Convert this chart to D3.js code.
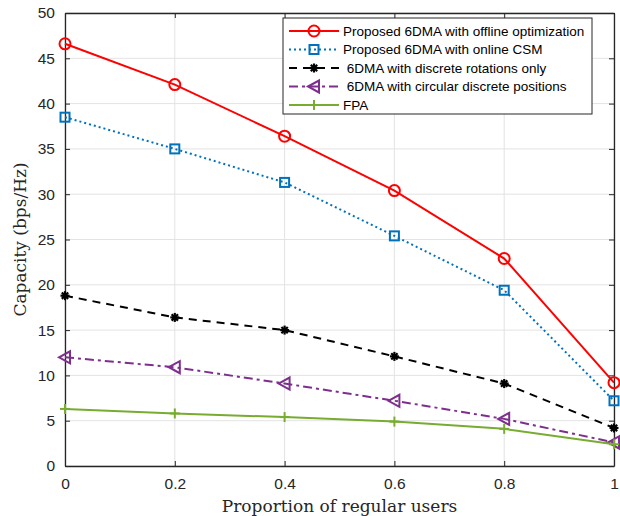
<!DOCTYPE html>
<html>
<head>
<meta charset="utf-8">
<script src="https://cdn.jsdelivr.net/npm/d3@7"></script>
<style>
body { margin: 0; background: #fff; }
svg { display: block; }
</style>
</head>
<body>
<div id="chart"></div>
<script>
// data
var proportions = [0, 0.2, 0.4, 0.6, 0.8, 1];
var offlineOpt  = [46.6, 42.1, 36.4, 30.4, 22.9, 9.2];
var onlineCSM   = [38.5, 35.0, 31.3, 25.4, 19.4, 7.2];
var discRot     = [18.8, 16.4, 15.0, 12.1, 9.1, 4.2];
var circDisc    = [12.0, 10.9, 9.1, 7.2, 5.2, 2.6];
var fpa         = [6.3, 5.8, 5.4, 4.9, 4.1, 2.4];
var xTicks = [0, 0.2, 0.4, 0.6, 0.8, 1];
var yTicks = [0, 5, 10, 15, 20, 25, 30, 35, 40, 45, 50];
var seriesNames = ["Proposed 6DMA with offline optimization", "Proposed 6DMA with online CSM",
	" 6DMA with discrete rotations only", " 6DMA with circular discrete positions", "FPA"];

var width = 620, height = 516;
var plot = {left: 65, right: 614, top: 13, bottom: 466};

var svg = d3.select("#chart").append("svg")
	.attr("width", width)
	.attr("height", height);

var x = d3.scaleLinear().domain([0, 1]).range([plot.left, plot.right]);
var y = d3.scaleLinear().domain([0, 50]).range([plot.bottom, plot.top]);

// grid
svg.append("g").selectAll("line").data(xTicks).enter().append("line")
	.attr("x1", d => x(d)).attr("x2", d => x(d))
	.attr("y1", plot.top).attr("y2", plot.bottom)
	.attr("stroke", "#e3e3e3").attr("stroke-width", 1);
svg.append("g").selectAll("line").data(yTicks).enter().append("line")
	.attr("x1", plot.left).attr("x2", plot.right)
	.attr("y1", d => y(d)).attr("y2", d => y(d))
	.attr("stroke", "#e3e3e3").attr("stroke-width", 1);

// axes (ticks inside, matlab style)
var xAxis = d3.axisBottom(x).tickValues(xTicks).tickFormat(d3.format("")).tickSizeInner(-5).tickSizeOuter(0).tickPadding(12);
var yAxis = d3.axisLeft(y).tickValues(yTicks).tickSizeInner(-5).tickSizeOuter(0).tickPadding(10);

var gx = svg.append("g").attr("transform", "translate(0," + plot.bottom + ")").call(xAxis);
var gy = svg.append("g").attr("transform", "translate(" + plot.left + ",0)").call(yAxis);
var gxTop = svg.append("g").attr("transform", "translate(0," + plot.top + ")")
	.call(d3.axisTop(x).tickValues(xTicks).tickFormat("").tickSizeInner(-5).tickSizeOuter(0));
var gyRight = svg.append("g").attr("transform", "translate(" + plot.right + ",0)")
	.call(d3.axisRight(y).tickValues(yTicks).tickFormat("").tickSizeInner(-5).tickSizeOuter(0));

[gx, gy, gxTop, gyRight].forEach(function(g){
	g.select(".domain").attr("stroke", "#262626").attr("stroke-width", 1.3);
	g.selectAll(".tick line").attr("stroke", "#262626").attr("stroke-width", 1);
	g.selectAll(".tick text")
		.attr("fill", "#262626")
		.style("font-family", "Liberation Sans, Arial, sans-serif")
		.style("font-size", "15.5px");
});

// axis labels
svg.append("text")
	.attr("x", (plot.left + plot.right) / 2)
	.attr("y", 512)
	.attr("text-anchor", "middle")
	.style("font-family", "DejaVu Serif, Liberation Serif, serif")
	.style("font-size", "17px")
	.attr("fill", "#262626")
	.text("Proportion of regular users");

svg.append("text")
	.attr("transform", "translate(26," + ((plot.top + plot.bottom) / 2) + ") rotate(-90)")
	.attr("text-anchor", "middle")
	.style("font-family", "DejaVu Serif, Liberation Serif, serif")
	.style("font-size", "17px")
	.attr("fill", "#262626")
	.text("Capacity (bps/Hz)");

// series
var series = [
	{name: seriesNames[0], values: offlineOpt, color: "#ff0000", dash: null, marker: "circle"},
	{name: seriesNames[1], values: onlineCSM, color: "#0072bd", dash: "2,3", marker: "square"},
	{name: seriesNames[2], values: discRot, color: "#000000", dash: "8,6", marker: "asterisk"},
	{name: seriesNames[3], values: circDisc, color: "#7e2f8e", dash: "9,4,3,4", marker: "triangle"},
	{name: seriesNames[4], values: fpa, color: "#77ac30", dash: null, marker: "plus"}
];

var line = d3.line().x(d => x(d[0])).y(d => y(d[1]));

function drawMarker(g, type, cx, cy, color){
	if(type == "circle"){
		g.append("circle").attr("cx", cx).attr("cy", cy).attr("r", 5.5)
			.attr("fill", "none").attr("stroke", color).attr("stroke-width", 2);
	} else if(type == "square"){
		g.append("rect").attr("x", cx - 4.5).attr("y", cy - 4.5).attr("width", 9).attr("height", 9)
			.attr("fill", "none").attr("stroke", color).attr("stroke-width", 2);
	} else if(type == "asterisk"){
		for(var a = 0; a < 4; a++){
			var ang = a * Math.PI / 4;
			g.append("line")
				.attr("x1", cx - 4.5 * Math.cos(ang)).attr("y1", cy - 4.5 * Math.sin(ang))
				.attr("x2", cx + 4.5 * Math.cos(ang)).attr("y2", cy + 4.5 * Math.sin(ang))
				.attr("stroke", color).attr("stroke-width", 2.2);
		}
		g.append("circle").attr("cx", cx).attr("cy", cy).attr("r", 2.5).attr("fill", color);
	} else if(type == "triangle"){
		g.append("path")
			.attr("d", "M" + (cx - 6) + "," + cy + " L" + (cx + 5) + "," + (cy - 6) + " L" + (cx + 5) + "," + (cy + 6) + " Z")
			.attr("fill", "none").attr("stroke", color).attr("stroke-width", 2);
	} else if(type == "plus"){
		g.append("line").attr("x1", cx - 5).attr("x2", cx + 5).attr("y1", cy).attr("y2", cy)
			.attr("stroke", color).attr("stroke-width", 2);
		g.append("line").attr("x1", cx).attr("x2", cx).attr("y1", cy - 5).attr("y2", cy + 5)
			.attr("stroke", color).attr("stroke-width", 2);
	}
}

series.forEach(function(s){
	var pts = proportions.map((p, i) => [p, s.values[i]]);
	svg.append("path")
		.attr("d", line(pts))
		.attr("fill", "none")
		.attr("stroke", s.color)
		.attr("stroke-width", 2)
		.attr("stroke-dasharray", s.dash);
	var mg = svg.append("g");
	pts.forEach(function(p){
		drawMarker(mg, s.marker, x(p[0]), y(p[1]), s.color);
	});
});

// legend
var legend = svg.append("g");
legend.append("rect")
	.attr("x", 283).attr("y", 18).attr("width", 309).attr("height", 96)
	.attr("fill", "#fff").attr("stroke", "#262626").attr("stroke-width", 1);

series.forEach(function(s, i){
	var ly = 31 + i * 18.5;
	legend.append("line")
		.attr("x1", 289).attr("x2", 339).attr("y1", ly).attr("y2", ly)
		.attr("stroke", s.color).attr("stroke-width", 2)
		.attr("stroke-dasharray", s.dash);
	drawMarker(legend, s.marker, 314, ly, s.color);
	legend.append("text")
		.attr("x", 343).attr("y", ly)
		.attr("dominant-baseline", "central")
		.style("white-space", "pre")
		.style("font-family", "Liberation Sans, Arial, sans-serif")
		.style("font-size", "13.5px")
		.attr("fill", "#000")
		.text(s.name);
});
</script>
</body>
</html>
